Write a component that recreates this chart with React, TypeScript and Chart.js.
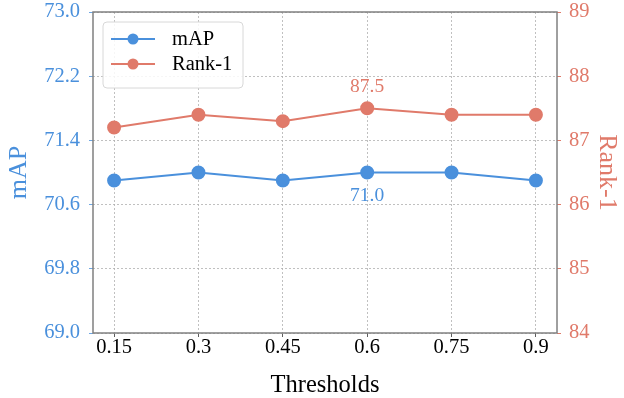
import React, { useEffect, useRef } from "react";
import { Chart, registerables } from "chart.js";

Chart.register(...registerables);

const thresholds = [0.15, 0.3, 0.45, 0.6, 0.75, 0.9];
const tickLabels = ["0.15", "0.3", "0.45", "0.6", "0.75", "0.9"];
const mapValues = [70.9, 71.0, 70.9, 71.0, 71.0, 70.9];
const rank1Values = [87.2, 87.4, 87.3, 87.5, 87.4, 87.4];
const mapTicks = [69, 69.8, 70.6, 71.4, 72.2, 73];

const BLUE = "#4a90dc";
const RED = "#e07a6a";
const FONT = "'Liberation Serif', 'Times New Roman', serif";

export default function App() {
  const ref = useRef<HTMLCanvasElement | null>(null);
  useEffect(() => {
    if (!ref.current) return;
    const framePlugin = {
      id: "frame",
      afterDatasetsDraw(chart: any) {
        const { ctx, chartArea: a, scales } = chart;
        ctx.save();
        ctx.strokeStyle = "#808080";
        ctx.lineWidth = 1.5;
        ctx.strokeRect(a.left, a.top, a.right - a.left, a.bottom - a.top);
        ctx.font = `19.5px ${FONT}`;
        ctx.textAlign = "center";
        ctx.textBaseline = "middle";
        const xi = 3;
        const x = scales.x.getPixelForValue(thresholds[xi]);
        ctx.fillStyle = RED;
        ctx.fillText(rank1Values[xi].toFixed(1), x, scales.y1.getPixelForValue(rank1Values[xi]) - 21);
        ctx.fillStyle = BLUE;
        ctx.fillText(mapValues[xi].toFixed(1), x, scales.y.getPixelForValue(mapValues[xi]) + 23);
        // legend
        const lx = 103, ly = 22, lw = 140, lh = 66;
        ctx.beginPath();
        const r = 4;
        ctx.moveTo(lx + r, ly);
        ctx.arcTo(lx + lw, ly, lx + lw, ly + lh, r);
        ctx.arcTo(lx + lw, ly + lh, lx, ly + lh, r);
        ctx.arcTo(lx, ly + lh, lx, ly, r);
        ctx.arcTo(lx, ly, lx + lw, ly, r);
        ctx.closePath();
        ctx.fillStyle = "rgba(255,255,255,0.85)";
        ctx.fill();
        ctx.strokeStyle = "#d8d8d8";
        ctx.lineWidth = 1;
        ctx.stroke();
        const items = [
          { label: "mAP", color: BLUE, y: 39 },
          { label: "Rank-1", color: RED, y: 64 },
        ];
        items.forEach((it) => {
          ctx.strokeStyle = it.color;
          ctx.lineWidth = 2;
          ctx.beginPath();
          ctx.moveTo(111, it.y);
          ctx.lineTo(155, it.y);
          ctx.stroke();
          ctx.fillStyle = it.color;
          ctx.beginPath();
          ctx.arc(133, it.y, 5.5, 0, Math.PI * 2);
          ctx.fill();
          ctx.fillStyle = "#000";
          ctx.font = `20.5px ${FONT}`;
          ctx.textAlign = "left";
          ctx.textBaseline = "middle";
          ctx.fillText(it.label, 172, it.y + 1);
        });
        ctx.restore();
      },
    };
    const chart = new Chart(ref.current, {
      type: "line",
      data: {
        datasets: [
          {
            label: "mAP",
            data: thresholds.map((t, i) => ({ x: t, y: mapValues[i] })),
            borderColor: BLUE,
            backgroundColor: BLUE,
            borderWidth: 2,
            pointRadius: 6,
            pointHoverRadius: 6,
            yAxisID: "y",
          },
          {
            label: "Rank-1",
            data: thresholds.map((t, i) => ({ x: t, y: rank1Values[i] })),
            borderColor: RED,
            backgroundColor: RED,
            borderWidth: 2,
            pointRadius: 6,
            pointHoverRadius: 6,
            yAxisID: "y1",
          },
        ],
      },
      options: {
        responsive: false,
        animation: false,
        layout: { padding: { top: 12, left: 0, right: 0, bottom: 0 } },
        plugins: { legend: { display: false }, tooltip: { enabled: false } },
        scales: {
          x: {
            type: "linear",
            min: 0.1125,
            max: 0.9375,
            afterBuildTicks: (s: any) => {
              s.ticks = thresholds.map((v) => ({ value: v }));
            },
            afterFit: (s: any) => {
              s.height = 65;
              s.paddingLeft = 0;
              s.paddingRight = 0;
            },
            ticks: {
              autoSkip: false,
              maxRotation: 0,
              color: "#000",
              font: { family: FONT, size: 20.5 },
              padding: -2,
              callback: (v: any) => {
                const i = thresholds.findIndex((t) => Math.abs(t - v) < 1e-6);
                return i >= 0 ? tickLabels[i] : "";
              },
            },
            grid: {
              color: "#b0b0b0",
              lineWidth: 0.8,
              tickLength: 4,
              tickColor: "#333",
              tickBorderDash: [],
            },
            border: { display: false, dash: [2, 2] },
            title: {
              display: true,
              text: "Thresholds",
              color: "#000",
              font: { family: FONT, size: 24.5 },
              padding: { top: 6, bottom: -2 },
            },
          },
          y: {
            position: "left",
            min: 69,
            max: 73,
            afterBuildTicks: (s: any) => {
              s.ticks = mapTicks.map((v) => ({ value: v }));
            },
            afterFit: (s: any) => {
              s.width = 93;
              s.paddingTop = 0;
              s.paddingBottom = 0;
            },
            ticks: {
              color: BLUE,
              font: { family: FONT, size: 20.5 },
              padding: 9,
              callback: (v: any) => Number(v).toFixed(1),
            },
            grid: {
              color: "#b0b0b0",
              lineWidth: 0.8,
              tickLength: 4,
              tickColor: BLUE,
              tickBorderDash: [],
            },
            border: { display: false, dash: [2, 2] },
            title: {
              display: true,
              text: "mAP",
              color: BLUE,
              font: { family: FONT, size: 26 },
              padding: { top: 4, bottom: 4 },
            },
          },
          y1: {
            position: "right",
            min: 84,
            max: 89,
            afterFit: (s: any) => {
              s.width = 67;
              s.paddingTop = 0;
              s.paddingBottom = 0;
            },
            ticks: {
              stepSize: 1,
              color: RED,
              font: { family: FONT, size: 20.5 },
              padding: 8,
            },
            grid: {
              drawOnChartArea: false,
              tickLength: 4,
              tickColor: RED,
            },
            border: { display: false },
            title: {
              display: true,
              text: "Rank-1",
              color: RED,
              font: { family: FONT, size: 26 },
              padding: { top: 2, bottom: 4 },
            },
          },
        },
      },
      plugins: [framePlugin],
    } as any);
    return () => chart.destroy();
  }, []);
  return (
    <div style={{ position: "fixed", left: 0, top: 0, width: 624, height: 398, background: "#fff" }}>
      <canvas ref={ref} width={624} height={398} style={{ width: 624, height: 398 }} />
    </div>
  );
}
